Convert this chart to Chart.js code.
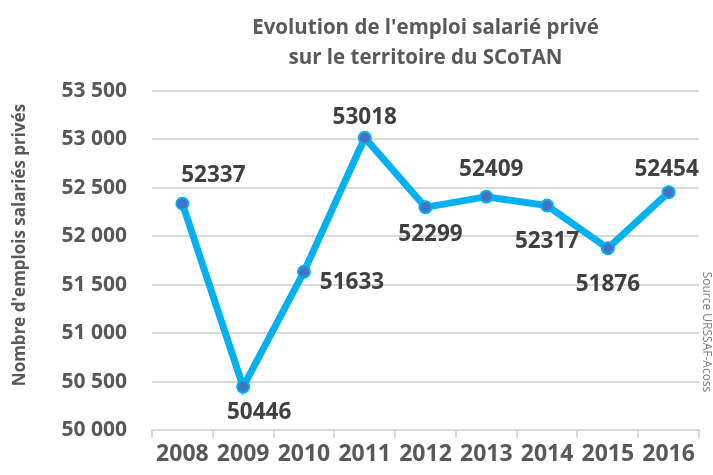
<!DOCTYPE html>
<html>
<head>
<meta charset="utf-8">
<script src="https://cdn.jsdelivr.net/npm/chart.js@4"></script>
<style>
  body { margin: 0; background: #fff; }
  #wrap { width: 713px; height: 475px; }
</style>
</head>
<body>
<div id="wrap"><canvas id="chart" width="713" height="475"></canvas></div>
<script>
// values
const years = ["2008", "2009", "2010", "2011", "2012", "2013", "2014", "2015", "2016"];
const emplois = [52337, 50446, 51633, 53018, 52299, 52409, 52317, 51876, 52454];
const yTicks = [50000, 50500, 51000, 51500, 52000, 52500, 53000, 53500];

const titleLines = ["Evolution de l'emploi salarié privé", "sur le territoire du SCoTAN"];
const yTitle = "Nombre d'emplois salariés privés";
const sourceText = "Source URSSAF-Acoss";

// where each value label sits, relative to its point
const labelOffsets = [[31, -28], [16, 26], [48, 11], [0, -20], [5, 27], [5, -27], [0, 36], [0, 36], [-2, -23]];

const grey = "#595959";
const font = "'Open Sans', sans-serif";

function fmt(v) {
  return String(v).replace(/\B(?=(\d{3})+$)/, " ");
}

// title, rotated axis title, source and value labels
const extras = {
  id: "extras",
  afterDatasetsDraw(chart) {
    const ctx = chart.ctx;
    const area = chart.chartArea;
    ctx.save();

    ctx.fillStyle = grey;
    ctx.font = "bold 20.5px " + font;
    ctx.textAlign = "center";
    ctx.textBaseline = "middle";
    const cx = (area.left + area.right) / 2;
    ctx.fillText(titleLines[0], cx, 28);
    ctx.fillText(titleLines[1], cx, 58);

    ctx.save();
    ctx.translate(20, 245);
    ctx.rotate(-Math.PI / 2);
    ctx.font = "bold 17px " + font;
    ctx.fillText(yTitle, 0, 0);
    ctx.restore();

    ctx.save();
    ctx.translate(706, 332);
    ctx.rotate(Math.PI / 2);
    ctx.fillStyle = "#808080";
    ctx.font = "12px " + font;
    ctx.fillText(sourceText, 0, 0);
    ctx.restore();

    const meta = chart.getDatasetMeta(0);
    ctx.fillStyle = "#404040";
    ctx.font = "bold 22.5px " + font;
    meta.data.forEach((pt, i) => {
      const off = labelOffsets[i];
      ctx.fillText(String(emplois[i]), pt.x + off[0], pt.y + off[1]);
    });
    ctx.restore();
  }
};

new Chart(document.getElementById("chart"), {
  type: "line",
  data: {
    labels: years,
    datasets: [{
      data: emplois,
      borderColor: "#00B0F0",
      borderWidth: 7,
      pointRadius: 6,
      pointBackgroundColor: "#4472C4",
      pointBorderColor: "#00B0F0",
      pointBorderWidth: 2,
      tension: 0,
    }],
  },
  options: {
    responsive: false,
    animation: false,
    layout: { padding: { top: 91, right: 14, left: 0, bottom: 0 } },
    plugins: { legend: { display: false }, tooltip: { enabled: false } },
    scales: {
      x: {
        offset: true,
        grid: { drawOnChartArea: false, drawTicks: true, tickLength: 8, color: "#d9d9d9", lineWidth: 2, offset: true },
        border: { display: true, color: "#d9d9d9", width: 2 },
        ticks: { color: grey, font: { family: font, size: 23, weight: "bold" }, padding: 3, autoSkip: false, maxRotation: 0 },
        afterFit(s) { s.height = 45; },
      },
      y: {
        min: 50000,
        max: 53500,
        afterBuildTicks(s) { s.ticks = yTicks.map(v => ({ value: v })); },
        grid: { color: "#d9d9d9", lineWidth: 2, drawTicks: false },
        border: { display: false },
        ticks: { color: grey, font: { family: font, size: 21, weight: "bold" }, padding: 25, callback: v => fmt(v) },
        afterFit(s) { s.width = 152; },
      },
    },
  },
  plugins: [extras],
});
</script>
</body>
</html>
